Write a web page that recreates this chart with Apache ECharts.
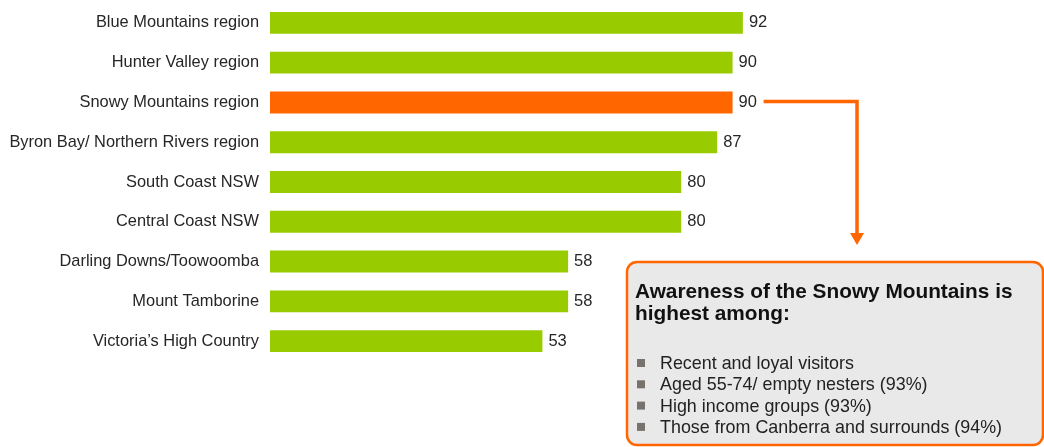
<!DOCTYPE html>
<html>
<head>
<meta charset="utf-8">
<script src="https://cdn.jsdelivr.net/npm/echarts@6/dist/echarts.min.js"></script>
<style>html,body{margin:0;padding:0;background:#fff}#c{width:1044px;height:447px}</style>
</head>
<body>
<div id="c"></div>
<script>
const categories = ["Blue Mountains region","Hunter Valley region","Snowy Mountains region","Byron Bay/ Northern Rivers region","South Coast NSW","Central Coast NSW","Darling Downs/Toowoomba","Mount Tamborine","Victoria\u2019s High Country"];
const values = [92, 90, 90, 87, 80, 80, 58, 58, 53];
const highlightCategory = "Snowy Mountains region";
const boxTitle = ["Awareness of the Snowy Mountains is", "highest among:"];
const boxBullets = ["Recent and loyal visitors","Aged 55-74/ empty nesters (93%)","High income groups (93%)","Those from Canberra and surrounds (94%)"];

const GREEN = "#99CC00", ORANGE = "#FF6600";
const FONT = "Liberation Sans, Arial, sans-serif";

const chart = echarts.init(document.getElementById('c'), null, {renderer: 'canvas'});
const option = {
  animation: false,
  grid: {left: 270, top: 3, width: 514, height: 358, containLabel: false},
  xAxis: {type: 'value', min: 0, max: 100, show: false},
  yAxis: {
    type: 'category', data: categories, inverse: true,
    axisLine: {show: false}, axisTick: {show: false}, splitLine: {show: false},
    axisLabel: {fontFamily: FONT, fontSize: 16.4, color: '#262626', margin: 11}
  },
  series: [{
    type: 'bar',
    barCategoryGap: '45%',
    data: values.map((v, i) => ({value: v, itemStyle: {color: categories[i] === highlightCategory ? ORANGE : GREEN}})),
    label: {show: true, position: 'right', distance: 6, fontFamily: FONT, fontSize: 16.5, color: '#262626'}
  }]
};
chart.setOption(option);

// Annotation anchored to the highlighted bar
const hi = categories.indexOf(highlightCategory);
const p = chart.convertToPixel({gridIndex: 0}, [values[hi], categories[hi]]);
const y0 = p[1] - 1;
const xs = p[0] + 31, xe = 857;
const boxElems = [];
boxElems.push({type: 'rect', shape: {x: 627, y: 262, width: 416, height: 183, r: 10},
  style: {fill: '#E9E9E9', stroke: ORANGE, lineWidth: 2.5}});
boxTitle.forEach((t, i) => boxElems.push({type: 'text', x: 635, y: 292 + i * 22,
  style: {text: t, font: 'bold 20.8px ' + FONT, fill: '#111', textVerticalAlign: 'middle'}}));
boxBullets.forEach((t, i) => {
  const y = 363 + i * 21.3;
  boxElems.push({type: 'rect', shape: {x: 637, y: y - 4, width: 8, height: 8}, style: {fill: '#77736C'}});
  boxElems.push({type: 'text', x: 660, y: y + 1, style: {text: t, font: '17.9px ' + FONT, fill: '#222', textVerticalAlign: 'middle'}});
});
chart.setOption({graphic: [
  {type: 'polyline', shape: {points: [[xs, y0], [xe, y0], [xe, 234]]}, style: {stroke: ORANGE, lineWidth: 3.5, fill: null}},
  {type: 'polygon', shape: {points: [[850, 233], [864, 233], [857, 245]]}, style: {fill: ORANGE}},
  {type: 'group', children: boxElems}
]});
</script>
</body>
</html>
